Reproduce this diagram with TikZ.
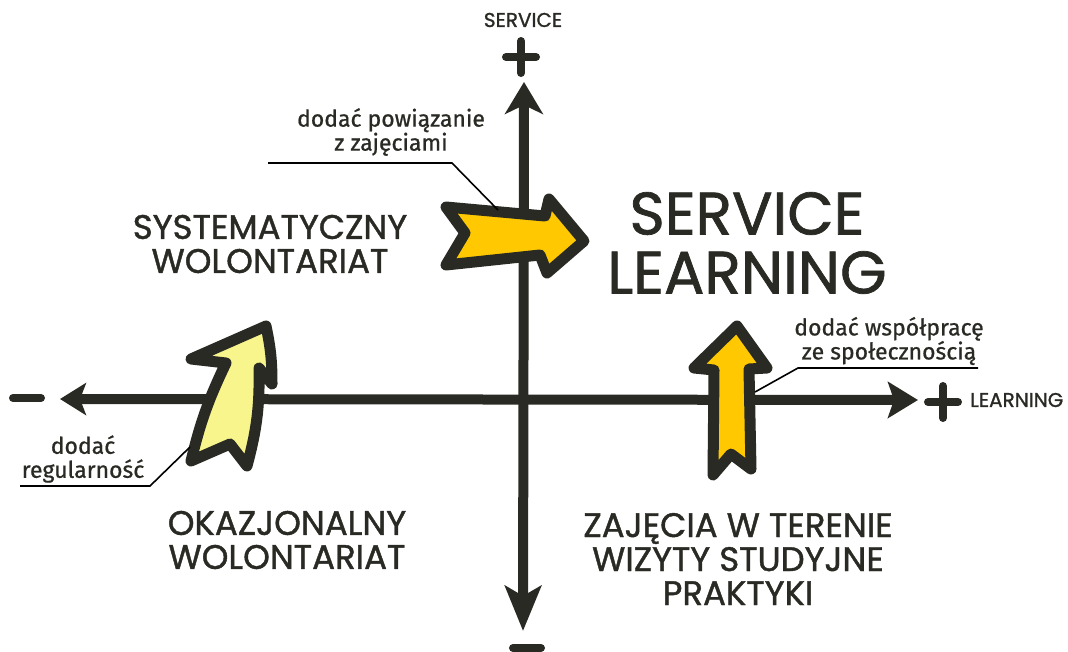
\documentclass[tikz,border=0pt]{standalone}
\usepackage{fontspec}
\newfontfamily\capsfont{Poppins}[FakeBold=1.2]
\newfontfamily\notefont{Fira Sans}[FakeBold=0.8]
\usetikzlibrary{arrows.meta, positioning}
\definecolor{ink}{HTML}{2A2A25}
\definecolor{gold}{HTML}{FFC800}
\definecolor{pale}{HTML}{F8F58C}
\tikzset{
  axis/.style={draw=ink, line width=10pt},
  sign/.style={draw=ink, line width=8pt, line cap=round},
  bigarrow/.style={draw=ink, line width=11pt, line join=round},
  title/.style={font=\capsfont\fontsize{34}{34}\selectfont, text=ink, align=center, inner sep=0pt},
  note/.style={font=\notefont\fontsize{23}{24}\selectfont, text=ink, align=center, inner sep=0pt},
  leader/.style={draw=black, line width=1.6pt},
  axislabel/.style={font=\capsfont\fontsize{20}{20}\selectfont, text=ink, inner sep=0pt}
}

\begin{document}
\begin{tikzpicture}[x=1pt, y=-1pt]
    \useasboundingbox (0,0) rectangle (1068,651);

    \coordinate (top) at (524,82);
    \coordinate (bottom) at (523,631);
    \coordinate (left) at (60,399);
    \coordinate (right) at (918,400);

    \draw[axis, {Stealth[length=32pt,width=38pt,inset=9pt]}-{Stealth[length=45pt,width=36pt,inset=10pt]}]
      (top) -- (bottom);
    \draw[axis, {Stealth[length=26pt,width=32pt,inset=6pt]}-{Stealth[length=30pt,width=36pt,inset=6pt]}]
      (left) -- (right);

    \coordinate (plusS) at (521,57);
    \coordinate (plusL) at (943,402);
    \foreach \c in {plusS, plusL}
      \draw[sign] ([xshift=-15pt]\c) -- ([xshift=15pt]\c) ([yshift=16pt]\c) -- ([yshift=-16pt]\c);

    \coordinate (minusL) at (27,398);
    \coordinate (minusS) at (527,648);
    \foreach \c in {minusL, minusS}
      \draw[sign] ([xshift=-14pt]\c) -- ([xshift=14pt]\c);

    \node[axislabel] (service) at (523,20) {SERVICE};
    \node[axislabel, anchor=west] (learning) at (970,400) {LEARNING};

    \draw[bigarrow, fill=gold] (446,207) -- (545,216) -- (549,199) -- (584,241)
      -- (547,273) -- (540,255) -- (446,265) -- (465,233) -- cycle;

    \draw[bigarrow, fill=pale] (266,326) to[bend left=6] (272,384) -- (259,368)
      to[bend left=8] (247,466) -- (230,444) -- (191,461)
      to[bend left=6] (226,363) -- (191,359) -- cycle;

    \draw[bigarrow, fill=gold] (737,326) -- (767,368) -- (749,369) -- (751,469)
      -- (731,454) -- (713,475) -- (714,370) -- (694,368) -- cycle;

    \coordinate (powA) at (268,163);
    \coordinate (powB) at (452,163);
    \coordinate (powC) at (498,210);
    \draw[leader] (powA) -- (powB) -- (powC);

    \coordinate (regA) at (20,486);
    \coordinate (regB) at (150,486);
    \coordinate (regC) at (190,447);
    \draw[leader] (regA) -- (regB) -- (regC);

    \coordinate (wspA) at (978,368);
    \coordinate (wspB) at (798,368);
    \coordinate (wspC) at (755,392);
    \draw[leader] (wspA) -- (wspB) -- (wspC);

    \node[note] (powiazanie) at (391,132) {dodać powiązanie\\z zajęciami};
    \node[note] (regularnosc) at (83,459) {dodać\\regularność};
    \node[note] (wspolpraca) at (889,341) {dodać współpracę\\ze społecznością};

    \node[title] (systematyczny) at (270,244) {SYSTEMATYCZNY\\WOLONTARIAT};
    \node[title, font=\capsfont\fontsize{60}{59}\selectfont] (sl) at (747,243) {SERVICE\\LEARNING};
    \node[title] (okazjonalny) at (287,540) {OKAZJONALNY\\WOLONTARIAT};
    \node[title] (teren) at (738,559) {ZAJĘCIA W TERENIE\\WIZYTY STUDYJNE\\PRAKTYKI};

\end{tikzpicture}
\end{document}
